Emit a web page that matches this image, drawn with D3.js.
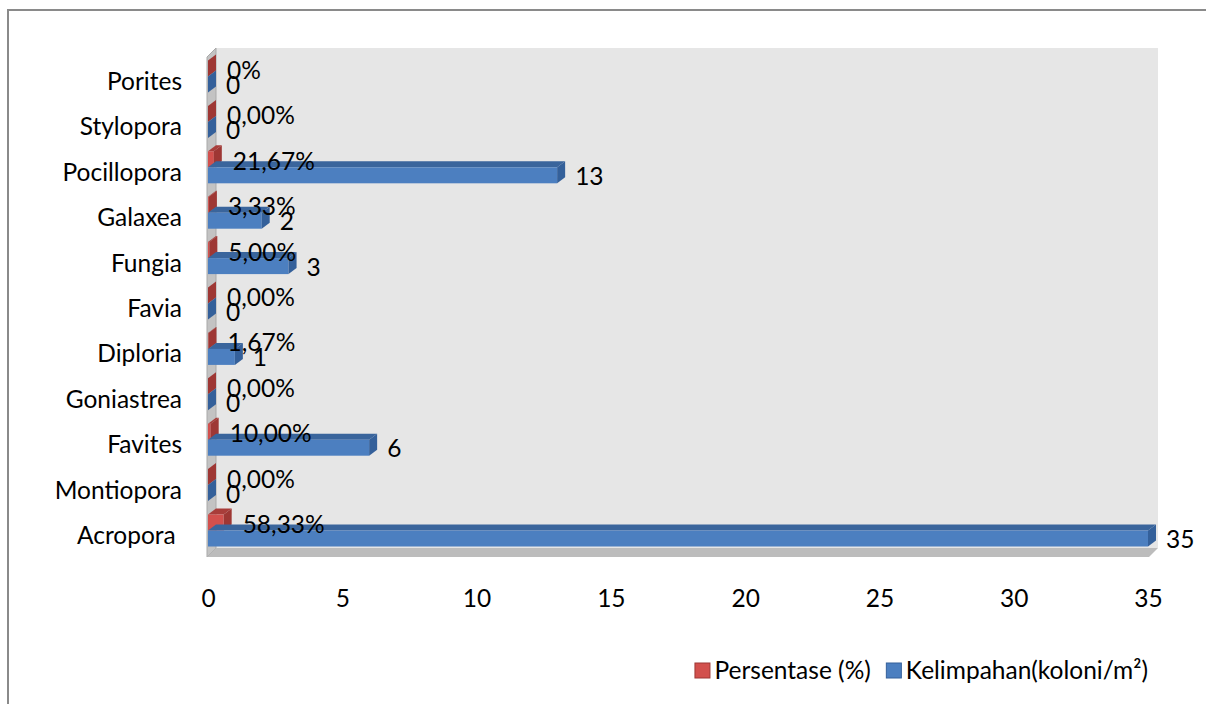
<!DOCTYPE html>
<html>
<head>
<meta charset="utf-8">
<script src="https://cdn.jsdelivr.net/npm/d3@7/dist/d3.min.js"></script>
<style>
  html, body { margin: 0; padding: 0; background: #ffffff; }
  svg text { font-family: Lato, "Open Sans", sans-serif; fill: #000; white-space: pre; }
</style>
</head>
<body>
<svg id="chart" width="1206" height="704"></svg>
<script>
// Coral genera, listed top to bottom
const categories = ["Porites", "Stylopora", "Pocillopora", "Galaxea", "Fungia", "Favia",
                    "Diploria", "Goniastrea", "Favites", "Montiopora", "Acropora "];
// Abundance (colonies/m²)
const kelimpahan = [0, 0, 13, 2, 3, 0, 1, 0, 6, 0, 35];
// Share of total, as fractions plotted on the same axis
const persentase = [0, 0, 0.2167, 0.0333, 0.05, 0, 0.0167, 0, 0.10, 0, 0.5833];
const persentaseLabels = ["0%", "0,00%", "21,67%", "3,33%", "5,00%", "0,00%",
                          "1,67%", "0,00%", "10,00%", "0,00%", "58,33%"];
const xTicks = [0, 5, 10, 15, 20, 25, 30, 35];
const seriesNames = ["Persentase (%)", "Kelimpahan(koloni/m²)"];

const FONT = 24.5;
const svg = d3.select("#chart");

// outer chart frame
svg.append("rect").attr("x", 8).attr("y", 10).attr("width", 1200).attr("height", 710)
  .attr("fill", "#fff").attr("stroke", "#8a8a8a").attr("stroke-width", 2);

const x = d3.scaleLinear().domain([0, 35]).range([208, 1148]);
const y = d3.scaleBand().domain(categories).range([58.8, 558.2]).padding(0);
const yc = c => y(c) + y.bandwidth() / 2;

// 3D walls
const depth = 9;
const wallTop = 48, wallBottom = 548, wallLeft = 216, wallRight = 1158;
svg.append("rect").attr("x", wallLeft).attr("y", wallTop)
  .attr("width", wallRight - wallLeft).attr("height", wallBottom - wallTop)
  .attr("fill", "#e6e6e6");
svg.append("polygon")
  .attr("points", [[wallLeft - depth, wallTop + depth], [wallLeft, wallTop], [wallLeft, wallBottom], [wallLeft - depth, wallBottom + depth]].join(" "))
  .attr("fill", "#c3c3c3").attr("stroke", "#a9a9a9").attr("stroke-width", 1);
svg.append("polygon")
  .attr("points", [[wallLeft - depth, wallBottom + depth], [wallLeft, wallBottom], [wallRight, wallBottom], [wallRight - depth, wallBottom + depth]].join(" "))
  .attr("fill", "#bcbcbc");

// 3D bar drawing: top face, front face, end face
const dx = 8, dy = 6;
function bar3d(g, x0, x1, yt, yb, cols) {
  g.append("polygon")
    .attr("points", [[x0, yt], [x0 + dx, yt - dy], [x1 + dx, yt - dy], [x1, yt]].join(" "))
    .attr("fill", cols.top);
  g.append("rect").attr("x", x0).attr("y", yt).attr("width", Math.max(0, x1 - x0)).attr("height", yb - yt)
    .attr("fill", cols.front);
  g.append("polygon")
    .attr("points", [[x1, yt], [x1 + dx, yt - dy], [x1 + dx, yb - dy], [x1, yb]].join(" "))
    .attr("fill", cols.side);
}
const redCols = { front: "#d2504d", top: "#a83d3a", side: "#9e3734" };
const blueCols = { front: "#4c7fc0", top: "#3a659c", side: "#34609a" };

const bars = svg.append("g");
categories.forEach((c, i) => {
  const m = yc(c);
  bar3d(bars, x(0), x(persentase[i]), m - 21, m - 5, redCols);
  bar3d(bars, x(0), x(kelimpahan[i]), m - 5, m + 11, blueCols);
});

// data labels
const labels = svg.append("g").attr("font-size", FONT);
categories.forEach((c, i) => {
  const m = yc(c);
  labels.append("text").attr("x", x(persentase[i]) + dx + 11).attr("y", m - 11)
    .attr("dy", "0.35em").text(persentaseLabels[i]);
  labels.append("text").attr("x", x(kelimpahan[i]) + dx + 10).attr("y", m + 4)
    .attr("dy", "0.35em").text(kelimpahan[i]);
});

// category axis
const yAxis = svg.append("g").attr("transform", "translate(182,0)")
  .call(d3.axisLeft(y).tickSize(0).tickPadding(0));
yAxis.select(".domain").remove();
yAxis.selectAll("text").attr("font-size", FONT).attr("font-family", "Lato, sans-serif")
  .attr("fill", "#000").attr("dy", "0.35em").attr("x", 0);

// value axis
const xAxis = svg.append("g").attr("transform", "translate(0,598)")
  .call(d3.axisBottom(x).tickValues(xTicks).tickSize(0).tickPadding(0));
xAxis.select(".domain").remove();
xAxis.selectAll("text").attr("font-size", FONT).attr("font-family", "Lato, sans-serif")
  .attr("fill", "#000").attr("y", 0).attr("dy", "0.35em");

// legend, right-aligned under the plot
const legend = svg.append("g").attr("font-size", FONT);
const legendRight = 1148, legendY = 670, sq = 15;
let cursor = legendRight;
[{ name: seriesNames[1], col: blueCols }, { name: seriesNames[0], col: redCols }].forEach(d => {
  const t = legend.append("text").attr("y", legendY).attr("dy", "0.35em").text(d.name);
  const w = t.node().getComputedTextLength();
  t.attr("x", cursor - w);
  const sx = cursor - w - 5 - sq;
  legend.append("rect").attr("x", sx + 0.5).attr("y", legendY - sq / 2 + 0.5).attr("width", sq).attr("height", sq)
    .attr("fill", d.col.front).attr("stroke", d.col.side).attr("stroke-width", 1);
  cursor = sx - 15;
});
</script>
</body>
</html>
